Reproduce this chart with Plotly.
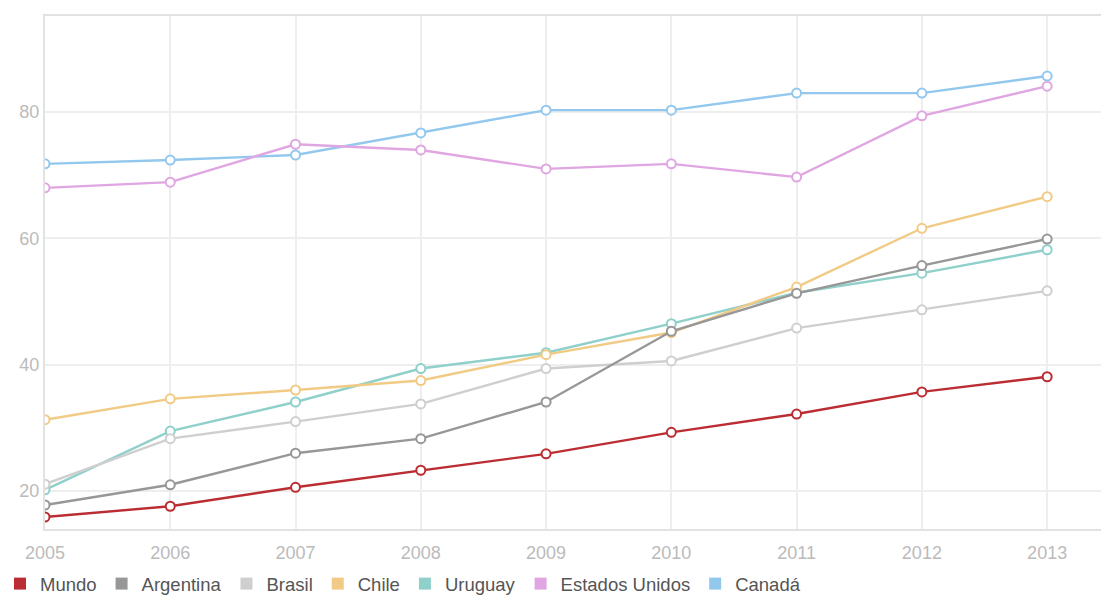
import plotly.graph_objects as go

years = [2005, 2006, 2007, 2008, 2009, 2010, 2011, 2012, 2013]

mundo = [15.9, 17.6, 20.6, 23.3, 25.9, 29.3, 32.2, 35.7, 38.1]
argentina = [17.8, 21.0, 26.0, 28.3, 34.1, 45.3, 51.3, 55.7, 59.9]
brasil = [21.1, 28.3, 31.0, 33.8, 39.4, 40.6, 45.8, 48.7, 51.7]
chile = [31.3, 34.6, 36.0, 37.5, 41.6, 45.1, 52.3, 61.6, 66.6]
uruguay = [20.2, 29.5, 34.1, 39.4, 41.9, 46.5, 51.4, 54.5, 58.2]
estados_unidos = [68.0, 68.9, 74.9, 74.0, 71.0, 71.8, 69.7, 79.4, 84.1]
canada = [71.8, 72.4, 73.2, 76.7, 80.3, 80.3, 83.0, 83.0, 85.7]

series_names = ["Mundo", "Argentina", "Brasil", "Chile", "Uruguay", "Estados Unidos", "Canadá"]
series_values = [mundo, argentina, brasil, chile, uruguay, estados_unidos, canada]
colors = ["#bb2d33", "#979797", "#cfcfcf", "#f1cb85", "#8fd0cb", "#e0a6e2", "#93c8ee"]

fig = go.Figure()

# draw back-to-front so Mundo ends up on top
for name, vals, col in reversed(list(zip(series_names, series_values, colors))):
    fig.add_trace(go.Scatter(
        x=years, y=vals, name=name, mode="lines+markers",
        line=dict(color=col, width=2.4),
        marker=dict(symbol="circle", size=9, color="white",
                    line=dict(color=col, width=2)),
        showlegend=False,
    ))

# legend entries drawn as filled squares
for name, col in zip(series_names, colors):
    fig.add_trace(go.Scatter(
        x=[None], y=[None], name=name, mode="markers",
        marker=dict(symbol="square", size=15, color=col),
        showlegend=True,
    ))

fig.update_layout(
    width=1101, height=596,
    margin=dict(l=45, r=0, t=16, b=67, autoexpand=False),
    paper_bgcolor="white", plot_bgcolor="white",
    font=dict(family="Liberation Sans, Arial, sans-serif", color="#555555"),
    showlegend=True,
    legend=dict(orientation="h", xref="container", x=0.0, xanchor="left",
                yref="container", y=0.02, yanchor="middle",
                font=dict(size=18.5, color="#555555"), itemsizing="constant",
                traceorder="normal", bgcolor="rgba(0,0,0,0)"),
)
fig.update_xaxes(
    range=[2005, 2013.43], tickvals=years, ticktext=[str(y) for y in years],
    showgrid=True, gridcolor="#eeeeee", gridwidth=2,
    showline=True, linecolor="#e2e2e2", linewidth=2, mirror=True,
    zeroline=False, tickfont=dict(size=18, color="#bbbbbb"), ticks="",
    ticklabelstandoff=6,
)
fig.update_yaxes(
    range=[14, 95.2], tickvals=[20, 40, 60, 80],
    showgrid=True, gridcolor="#eeeeee", gridwidth=2,
    showline=True, linecolor="#e2e2e2", linewidth=2, mirror=True,
    zeroline=False, tickfont=dict(size=18, color="#bbbbbb"), ticks="",
    ticklabelstandoff=0,
)

fig.write_html("out.html")
